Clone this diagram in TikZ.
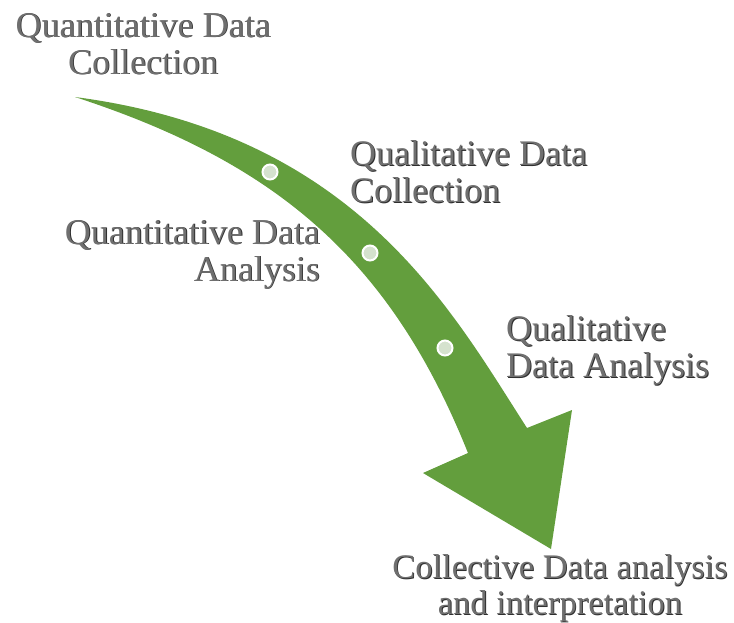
\documentclass[tikz,border=0pt]{standalone}
\usepackage{fontspec}
\setmainfont{Liberation Serif}
\definecolor{arrowgreen}{HTML}{639E3D}
\definecolor{dotfill}{HTML}{D5E2CE}
\definecolor{labelgray}{HTML}{6F6F6F}
\definecolor{labelshadow}{HTML}{2E2E2E}
% text with a thin dark drop shadow to the lower right
\newcommand\shadowed[1]{\rlap{\kern0.9pt\raisebox{-0.9pt}{\textcolor{labelshadow}{#1}}}#1}
\begin{document}
\begin{tikzpicture}[x=1pt,y=-1pt,
  lbl/.style={font=\fontsize{36}{37}\selectfont, text=labelgray, inner sep=0pt},
  stepdot/.style={circle, fill=dotfill, draw=white, line width=2pt, minimum size=15pt, inner sep=0pt}]
\useasboundingbox (0,0) rectangle (734,622);

% curved process arrow: tapering shaft and broad head
\fill[arrowgreen]
  (75,97) .. controls (357,134) and (451,310) .. (527,428)
  -- (572,410) -- (551,549) -- (423,473) -- (468,453)
  .. controls (390,258) and (274.5,162) .. (75,97)
  -- cycle;

% step markers on the arrow
\node[stepdot] (d1) at (270,172) {};
\node[stepdot] (d2) at (370,253) {};
\node[stepdot] (d3) at (445,348) {};

% stage labels
\node[lbl, align=center, anchor=north] (qnc) at (143,13)
  {\shadowed{Quantitative Data}\\\shadowed{Collection}};
\node[lbl, align=left, anchor=north west] (qlc) at (350,140)
  {\shadowed{Qualitative Data}\\\shadowed{Collection}};
\node[lbl, align=right, anchor=north east] (qna) at (320,220)
  {\shadowed{Quantitative Data}\\\shadowed{Analysis}};
\node[lbl, align=left, anchor=north west] (qla) at (506,315)
  {\shadowed{Qualitative}\\\shadowed{Data Analysis}};
\node[lbl, font=\fontsize{34.5}{36}\selectfont, align=center, anchor=north] (cda) at (560,554)
  {\shadowed{Collective Data analysis}\\\shadowed{and interpretation}};
\end{tikzpicture}
\end{document}
